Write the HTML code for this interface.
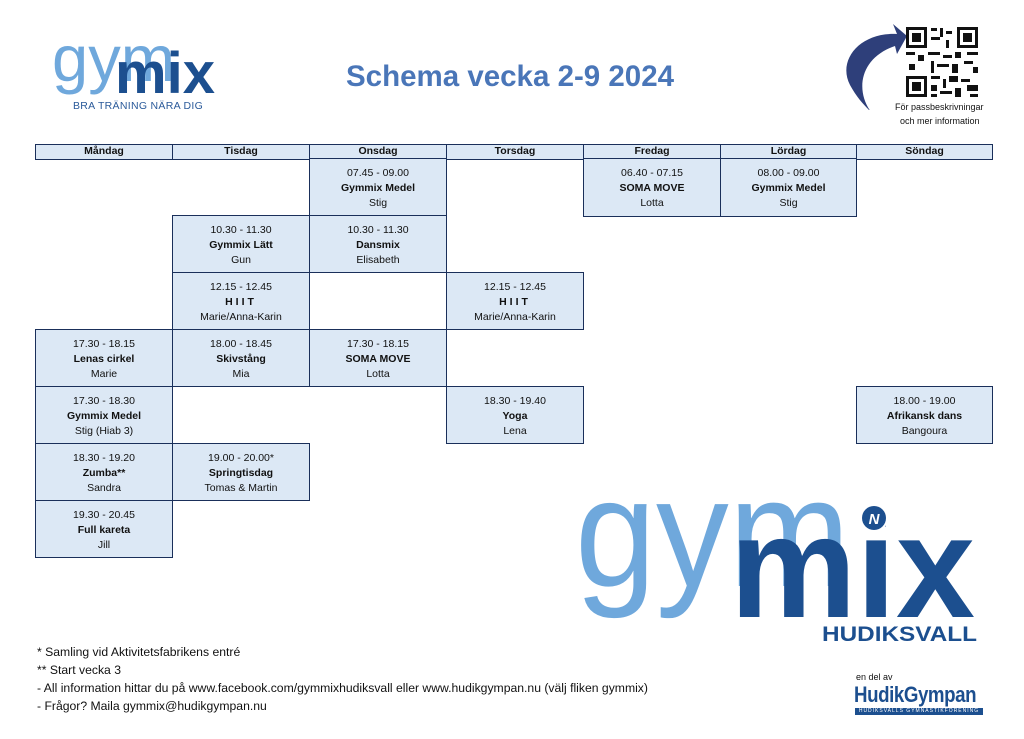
<!DOCTYPE html>
<html><head><meta charset="utf-8"><style>
*{margin:0;padding:0;box-sizing:border-box}
body{width:1024px;height:739px;background:#fff;position:relative;overflow:hidden;font-family:"Liberation Sans",sans-serif}
.a{position:absolute}
.h{position:absolute;top:144px;height:16px;background:#dce8f5;border:1.5px solid #1a2f5a;font-size:10.5px;font-weight:bold;text-align:center;line-height:13px;color:#111}
.c{position:absolute;background:#dce8f5;border:1.5px solid #1a2f5a;text-align:center;font-size:10.5px;color:#111;padding-top:7px;line-height:15px}
.c b{display:block}
.f{position:absolute;left:37px;font-size:12.2px;color:#111}
</style></head><body>
<!-- small logo -->
<svg class="a" style="left:0;top:0" width="260" height="120" font-family="Liberation Sans">
<text x="52" y="81" font-size="65" fill="#6fa8dc" textLength="123" lengthAdjust="spacingAndGlyphs">gym</text>
<text x="115" y="93" font-size="58" font-weight="bold" fill="#1c4f8f" textLength="100" lengthAdjust="spacingAndGlyphs">mix</text>
</svg>
<div class="a" style="left:73px;top:100px;font-size:10.5px;color:#2a5a9a;letter-spacing:0.3px">BRA TRÄNING NÄRA DIG</div>
<div class="a" style="left:346px;top:60px;font-size:29.5px;font-weight:bold;color:#4a76b8">Schema vecka 2-9 2024</div>
<!-- QR & arrow -->
<svg class="a" style="left:835px;top:20px" width="160" height="90">
<path d="M62,14 C25,12 2,40 15,65 C22,78 30,86 36,92 C20,70 25,38 60,26 L62,34 L72,16 L58,4 Z" fill="#2e3f7a"/>
<g fill="#111">
<rect x="71" y="7" width="21" height="21"/><rect x="74" y="10" width="15" height="15" fill="#fff"/><rect x="77" y="13" width="9" height="9"/>
<rect x="122" y="7" width="21" height="21"/><rect x="125" y="10" width="15" height="15" fill="#fff"/><rect x="128" y="13" width="9" height="9"/>
<rect x="71" y="56" width="21" height="21"/><rect x="74" y="59" width="15" height="15" fill="#fff"/><rect x="77" y="62" width="9" height="9"/>
<rect x="96" y="8" width="6" height="3"/><rect x="105" y="8" width="3" height="9"/><rect x="111" y="11" width="6" height="3"/><rect x="96" y="17" width="9" height="3"/><rect x="111" y="20" width="3" height="8"/>
<rect x="71" y="32" width="9" height="3"/><rect x="83" y="35" width="6" height="6"/><rect x="93" y="32" width="12" height="3"/><rect x="108" y="35" width="9" height="3"/><rect x="120" y="32" width="6" height="6"/><rect x="132" y="32" width="11" height="3"/>
<rect x="74" y="44" width="6" height="6"/><rect x="96" y="41" width="3" height="12"/><rect x="102" y="44" width="12" height="3"/><rect x="117" y="44" width="6" height="9"/><rect x="129" y="41" width="9" height="3"/><rect x="138" y="47" width="5" height="6"/>
<rect x="96" y="56" width="9" height="3"/><rect x="108" y="59" width="3" height="9"/><rect x="114" y="56" width="9" height="6"/><rect x="126" y="59" width="9" height="3"/><rect x="132" y="65" width="11" height="6"/>
<rect x="96" y="65" width="6" height="6"/><rect x="105" y="71" width="12" height="3"/><rect x="120" y="68" width="6" height="9"/><rect x="96" y="74" width="6" height="3"/><rect x="135" y="74" width="8" height="3"/>
</g>
</svg>
<div class="a" style="left:895px;top:102px;font-size:9px;color:#111">För passbeskrivningar</div>
<div class="a" style="left:900px;top:116px;font-size:9px;color:#111">och mer information</div>
<!-- headers -->
<div class="h" style="left:35px;width:138px">Måndag</div>
<div class="h" style="left:172px;width:138px">Tisdag</div>
<div class="h" style="left:309px;width:138px">Onsdag</div>
<div class="h" style="left:446px;width:138px">Torsdag</div>
<div class="h" style="left:583px;width:138px">Fredag</div>
<div class="h" style="left:720px;width:137px">Lördag</div>
<div class="h" style="left:856px;width:137px">Söndag</div>
<!-- cells -->
<div class="c" style="left:309px;top:158px;width:138px;height:59px">07.45 - 09.00<b>Gymmix Medel</b>Stig</div>
<div class="c" style="left:583px;top:158px;width:138px;height:59px">06.40 - 07.15<b>SOMA MOVE</b>Lotta</div>
<div class="c" style="left:720px;top:158px;width:137px;height:59px">08.00 - 09.00<b>Gymmix Medel</b>Stig</div>
<div class="c" style="left:172px;top:215px;width:138px;height:58px">10.30 - 11.30<b>Gymmix Lätt</b>Gun</div>
<div class="c" style="left:309px;top:215px;width:138px;height:58px">10.30 - 11.30<b>Dansmix</b>Elisabeth</div>
<div class="c" style="left:172px;top:272px;width:138px;height:58px">12.15 - 12.45<b style="letter-spacing:3px">HIIT</b>Marie/Anna-Karin</div>
<div class="c" style="left:446px;top:272px;width:138px;height:58px">12.15 - 12.45<b style="letter-spacing:3px">HIIT</b>Marie/Anna-Karin</div>
<div class="c" style="left:35px;top:329px;width:138px;height:58px">17.30 - 18.15<b>Lenas cirkel</b>Marie</div>
<div class="c" style="left:172px;top:329px;width:138px;height:58px">18.00 - 18.45<b>Skivstång</b>Mia</div>
<div class="c" style="left:309px;top:329px;width:138px;height:58px">17.30 - 18.15<b>SOMA MOVE</b>Lotta</div>
<div class="c" style="left:35px;top:386px;width:138px;height:58px">17.30 - 18.30<b>Gymmix Medel</b>Stig (Hiab 3)</div>
<div class="c" style="left:446px;top:386px;width:138px;height:58px">18.30 - 19.40<b>Yoga</b>Lena</div>
<div class="c" style="left:856px;top:386px;width:137px;height:58px">18.00 - 19.00<b>Afrikansk dans</b>Bangoura</div>
<div class="c" style="left:35px;top:443px;width:138px;height:58px">18.30 - 19.20<b>Zumba**</b>Sandra</div>
<div class="c" style="left:172px;top:443px;width:138px;height:58px">19.00 - 20.00*<b>Springtisdag</b>Tomas &amp; Martin</div>
<div class="c" style="left:35px;top:500px;width:138px;height:58px">19.30 - 20.45<b>Full kareta</b>Jill</div>
<!-- big logo -->
<svg class="a" style="left:0;top:0" width="1024" height="739" font-family="Liberation Sans">
<text x="575" y="586" font-size="155" fill="#6fa8dc" textLength="275" lengthAdjust="spacingAndGlyphs">gym</text>
<text x="730" y="617" font-size="145" font-weight="bold" fill="#1c4f8f" textLength="245" lengthAdjust="spacingAndGlyphs">mix</text>
<circle cx="874" cy="518" r="14" fill="#fff"/>
<circle cx="874" cy="518" r="12" fill="#1c4f8f"/>
<text x="874" y="524" font-size="15" font-weight="bold" font-style="italic" fill="#fff" text-anchor="middle">N</text>
<text x="822" y="641" font-size="21" font-weight="bold" fill="#1c4f8f" textLength="155" lengthAdjust="spacingAndGlyphs">HUDIKSVALL</text>
</svg>
<div class="a" style="left:856px;top:672px;font-size:9px;color:#111">en del av</div>
<div class="a" style="left:854px;top:682px;font-size:22px;font-weight:bold;color:#1c4f8f;letter-spacing:-0.5px;transform:scaleX(0.85);transform-origin:left">HudikGympan</div>
<div class="a" style="left:855px;top:708px;width:128px;height:7px;background:#1c4f8f;color:#fff;font-size:5px;line-height:7px;text-align:center;letter-spacing:1px">HUDIKSVALLS GYMNASTIKFÖRENING</div>
<!-- footnotes -->
<div class="f" style="top:645px">* Samling vid Aktivitetsfabrikens entré</div>
<div class="f" style="top:663px">** Start vecka 3</div>
<div class="f" style="top:681px">- All information hittar du på www.facebook.com/gymmixhudiksvall eller www.hudikgympan.nu (välj fliken gymmix)</div>
<div class="f" style="top:699px">- Frågor? Maila gymmix@hudikgympan.nu</div>
</body></html>
